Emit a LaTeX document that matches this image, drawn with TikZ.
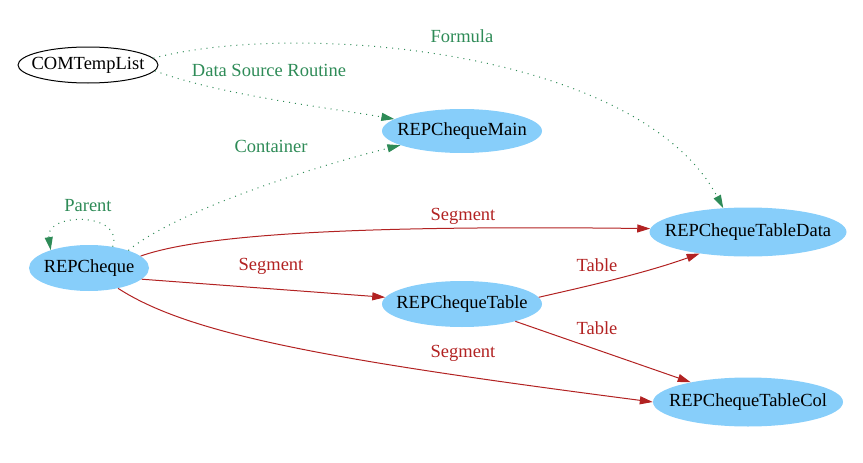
\documentclass[tikz,border=0pt]{standalone}
\usepackage{fontspec}
\setmainfont{Liberation Serif}
\usetikzlibrary{shapes.geometric,arrows.meta}

\definecolor{nodeblue}{RGB}{135,206,250}
\definecolor{linkgreen}{RGB}{46,139,87}
\definecolor{linkred}{RGB}{178,34,34}

\tikzset{
  obj/.style={ellipse, fill=nodeblue, inner ysep=0pt, inner xsep=-20pt,
    minimum height=46pt, font=\fontsize{18.5}{22}\selectfont},
  ext/.style={ellipse, draw=black, line width=1pt, fill=white, inner ysep=0pt,
    inner xsep=-20pt, minimum width=140pt, minimum height=36pt,
    font=\fontsize{18.5}{22}\selectfont},
  soft/.style={draw=linkgreen, line width=1pt, dash pattern=on 1pt off 5pt,
    -{Triangle[length=13pt,width=8pt,fill=linkgreen,color=linkgreen]}},
  hard/.style={draw=linkred, line width=1pt,
    -{Triangle[length=13pt,width=8pt,fill=linkred,color=linkred]}},
  glbl/.style={text=linkgreen, font=\fontsize{18.5}{22}\selectfont},
  rlbl/.style={text=linkred, font=\fontsize{18.5}{22}\selectfont}
}

\begin{document}
\begin{tikzpicture}[x=1pt,y=-1pt]

\useasboundingbox (0,0) rectangle (863,463);

% Nodes
\node[ext] (tmpl) at (88,65) {COMTempList};
\node[obj, minimum width=160pt, minimum height=44pt] (main) at (462,131) {REPChequeMain};
\node[obj, minimum width=120pt] (cheque) at (89,268) {REPCheque};
\node[obj, minimum width=160pt] (table) at (462,304) {REPChequeTable};
\node[obj, minimum width=197pt, minimum height=49pt] (tdata) at (748,232) {REPChequeTableData};
\node[obj, minimum width=190pt, minimum height=49pt] (tcol) at (748,402) {REPChequeTableCol};

% Dotted links
\draw[soft] (tmpl.6) .. controls (300,20) and (640,50) .. (tdata.136);
\draw[soft] (tmpl.-5) .. controls (220,95) and (330,108) .. (main.170);
\draw[soft] (cheque.24) .. controls (170,215) and (300,170) .. (main.193);
\draw[soft] (cheque.42) .. controls (125,212) and (45,212) .. (cheque.155);

% Solid links
\draw[hard] (cheque.13) .. controls (200,235) and (350,225) .. (tdata.178);
\draw[hard] (cheque.-12) -- (table.175);
\draw[hard] (cheque.-35) .. controls (190,335) and (330,360) .. (tcol.west);
\draw[hard] (table.5) .. controls (570,290) and (640,275) .. (tdata.204);
\draw[hard] (table.-18) -- (tcol.161);

% Labels
\node[glbl] (lformula) at (462,36) {Formula};
\node[glbl] (lsource) at (269,70) {Data Source Routine};
\node[glbl] (lcontainer) at (271,146) {Container};
\node[glbl] (lparent) at (88,206) {Parent};
\node[rlbl] (lseg1) at (463,216) {Segment};
\node[rlbl] (lseg2) at (271,266) {Segment};
\node[rlbl] (lseg3) at (463,353) {Segment};
\node[rlbl] (ltable1) at (597,265) {Table};
\node[rlbl] (ltable2) at (597,328) {Table};

\end{tikzpicture}
\end{document}
